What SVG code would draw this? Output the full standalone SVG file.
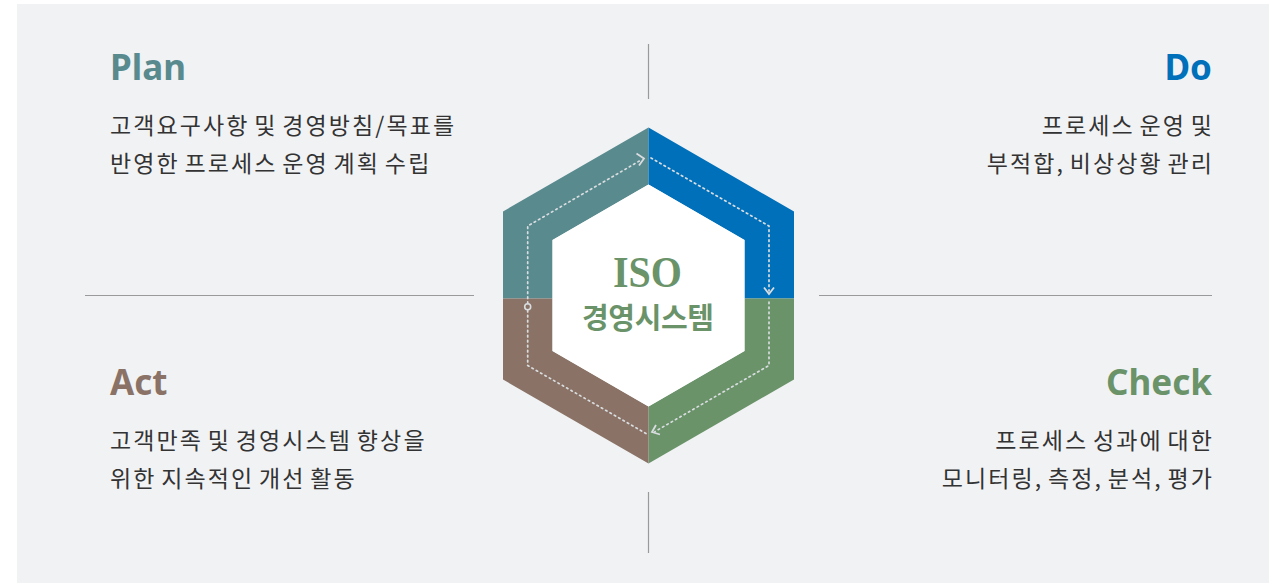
<svg xmlns="http://www.w3.org/2000/svg" width="1269" height="583" viewBox="0 0 1269 583">
<defs>
<style>
.title{font-family:"Noto Sans","Noto Sans CJK KR",sans-serif;font-weight:700;font-size:35px}
.body{font-family:"Noto Sans CJK KR","Noto Sans",sans-serif;font-size:23px;fill:#333333;letter-spacing:2.1px;word-spacing:-2.5px}
.sep{stroke:#9a9a9a;stroke-width:1.2;fill:none}
.dot{stroke:#d9dde0;stroke-width:1.7;fill:none;stroke-dasharray:1.6 3.4;stroke-linecap:round}
.chev{stroke:#d9dde0;stroke-width:1.8;fill:none}
</style>
</defs>
<rect x="0" y="0" width="1269" height="583" fill="#ffffff"/>
<rect x="17" y="4" width="1252" height="579" fill="#f1f2f4"/>

<g id="separators">
<line class="sep" x1="85" y1="295.5" x2="474" y2="295.5"/>
<line class="sep" x1="819" y1="295.5" x2="1212" y2="295.5"/>
<line class="sep" x1="648.5" y1="44" x2="648.5" y2="99"/>
<line class="sep" x1="648.5" y1="492" x2="648.5" y2="553"/>
</g>

<g id="hexagon">
<polygon id="seg-plan" fill="#588a8e" points="648.5,127.5 648.5,184.5 552.5,240 552.5,298.5 503,298.5 503,211.5"/>
<polygon id="seg-do" fill="#0070ba" points="648.5,127.5 794,211.5 794,298.5 744.5,298.5 744.5,240 648.5,184.5"/>
<polygon id="seg-check" fill="#6a9369" points="794,298.5 794,379.5 648.5,463.5 648.5,406.5 744.5,351 744.5,298.5"/>
<polygon id="seg-act" fill="#8a7366" points="503,298.5 503,379.5 648.5,463.5 648.5,406.5 552.5,351 552.5,298.5"/>
<polygon id="center" fill="#ffffff" points="648.5,184.5 744.5,240 744.5,351 648.5,406.5 552.5,351 552.5,240"/>
<text x="613" y="287" textLength="69" lengthAdjust="spacingAndGlyphs" font-family="Liberation Serif, serif" font-weight="700" font-size="45" fill="#6a9369">ISO</text>
<text x="582" y="329" textLength="132" lengthAdjust="spacing" font-family="Noto Sans CJK KR, sans-serif" font-weight="700" font-size="29" fill="#6a9369">경영시스템</text>
</g>

<g id="connectors">
<path class="dot" d="M527.7,303.5 V226 L642,159.5"/>
<path class="chev" d="M636.5,153.5 L644,158.5 L639,165.5"/>
<path class="dot" d="M651,158 L769,226 V291"/>
<path class="chev" d="M764,287.5 L769,294 L774,287.5"/>
<path class="dot" d="M769,302 V365.5 L655,431.5"/>
<path class="chev" d="M656,425 L652,432 L660,434.5"/>
<path class="dot" d="M646,433.5 L527.7,365.5 V310"/>
<circle cx="527.7" cy="306.7" r="3" fill="none" stroke="#d9dde0" stroke-width="1.6"/>
</g>

<g id="plan">
<text class="title" x="110" y="80" fill="#588a8e">Plan</text>
<text class="body" x="110" y="134">고객요구사항 및 경영방침/목표를</text>
<text class="body" x="110" y="172">반영한 프로세스 운영 계획 수립</text>
</g>

<g id="do">
<text class="title" x="1212" y="80" fill="#0070ba" text-anchor="end">Do</text>
<text class="body" x="1214" y="134" text-anchor="end">프로세스 운영 및</text>
<text class="body" x="1214" y="172" text-anchor="end">부적합, 비상상황 관리</text>
</g>

<g id="act">
<text class="title" x="110" y="395" fill="#8a7366">Act</text>
<text class="body" x="110" y="449">고객만족 및 경영시스템 향상을</text>
<text class="body" x="110" y="487">위한 지속적인 개선 활동</text>
</g>

<g id="check">
<text class="title" x="1212" y="395" fill="#6a9369" text-anchor="end">Check</text>
<text class="body" x="1214" y="449" text-anchor="end">프로세스 성과에 대한</text>
<text class="body" x="1214" y="487" text-anchor="end">모니터링, 측정, 분석, 평가</text>
</g>
</svg>
